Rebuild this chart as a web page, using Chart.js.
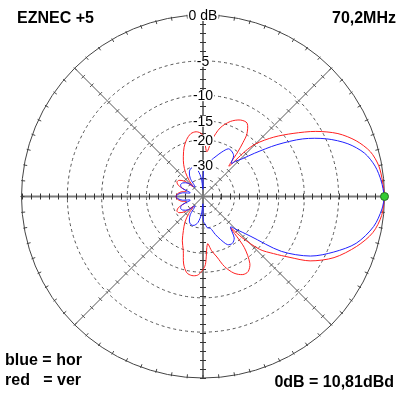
<!DOCTYPE html>
<html lang="en">
<head>
<meta charset="UTF-8">
<title>EZNEC azimuth pattern</title>
<script src="https://cdn.jsdelivr.net/npm/chart.js"></script>
<style>
    html, body { margin: 0; padding: 0; background: #fff; }
    #wrap { position: relative; width: 404px; height: 393px; }
</style>
</head>
<body>
<div id="wrap"><canvas id="pattern"></canvas></div>
<script>
// azimuth in degrees (ccw from the right), gain in dB relative to the max
const horAz = [0, 5, 10, 15, 20, 25, 30, 35, 40, 44, 47, 49.5, 53, 58, 62, 67, 72, 77, 82, 86, 89, 91, 95,
    101, 107, 113, 119, 125, 130, 138, 146, 152, 158, 164, 170, 175, 180, 185, 190, 196, 202, 208, 214, 222,
    230, 235, 241, 247, 253, 259, 265, 269, 271, 274, 278, 283, 288, 292, 297, 302, 307, 312, 315, 320, 325,
    331, 337, 343, 350, 356, 360];
const horDb = [0, -0.25, -0.65, -1.4, -2.8, -4.9, -7.8, -12, -17, -20.8, -22.6, -24.5, -21.8, -20.9, -20.8,
    -22.7, -25, -27.1, -30, -32.5, -34, -55, -40, -33, -30.8, -30.5, -32, -36, -46, -38, -34.5, -33.8, -35.5,
    -45, -37, -34, -32.7, -34, -37, -45, -35.5, -33.8, -34.5, -38, -46, -36, -32, -30.5, -30.8, -33, -40, -55,
    -34, -32.5, -30, -29.5, -26, -23.5, -20.8, -20.4, -21.5, -25.5, -23.5, -18.6, -11, -6.7, -4.2, -2.15,
    -0.8, -0.2, 0];

const verAz = [0, 5, 10, 15, 20, 25, 30, 35, 40, 45, 47, 49.5, 52, 53.5, 55, 59, 64, 70, 76, 81, 85, 88, 91,
    96, 101, 106, 111, 116, 121, 126, 131, 135, 140, 146, 151, 156, 162, 168, 174, 180, 186, 192, 198, 204,
    209, 214, 220, 226, 230, 235, 240, 245, 250, 254, 258, 262, 266, 269, 272, 275.5, 279, 283, 287, 292, 297,
    301, 305, 309, 311.5, 313.5, 317, 321, 325, 329, 335, 342, 348, 354, 360];
const verDb = [0, -0.13, -0.3, -0.8, -1.85, -3.4, -5.7, -8.6, -11.6, -15.3, -18.5, -26, -20, -17, -14.8,
    -12.9, -13, -14.1, -16.2, -19.8, -24, -21, -18.3, -17.6, -17.9, -19.2, -21.2, -24, -27, -31, -37, -44,
    -35, -31.5, -31, -33, -40, -36, -33.5, -32.7, -33.5, -36, -40, -33, -31, -31.5, -35, -44, -36, -30, -26.3,
    -22.5, -19.7, -16.3, -14.5, -14.1, -14.3, -15.2, -16.8, -23, -20.5, -18.4, -15.6, -13.5, -12.5, -12.5,
    -13.7, -17.5, -25, -20, -14.6, -11.9, -9.2, -6.4, -3.9, -2.0, -0.76, -0.17, 0];

const peakAz = [0];
const peakDb = [0];

const ringDb = [-5, -10, -15, -20, -30, -40];
const ringLabels = ['-5', '-10', '-15', '-20', '-30'];
const topLabel = '0 dB';

const titleLeft = 'EZNEC +5';
const titleRight = '70,2MHz';
const legendLines = ['blue = hor', 'red   = ver'];
const refText = '0dB = 10,81dBd';

// ARRL log scale: radius shrinks by 0.89 every 2 dB
function arrl(db) {
    return Math.pow(0.89, -db / 2);
}

function toXY(az, db) {
    return az.map((a, i) => {
        const f = arrl(db[i]);
        const t = a * Math.PI / 180;
        return { x: f * Math.cos(t), y: f * Math.sin(t) };
    });
}

const FONT = '"Liberation Sans", Arial, sans-serif';

const polarGrid = {
    id: 'polarGrid',
    beforeDatasetsDraw(chart) {
        const ctx = chart.ctx;
        const xs = chart.scales.x, ys = chart.scales.y;
        const cx = xs.getPixelForValue(0), cy = ys.getPixelForValue(0);
        const R = xs.getPixelForValue(1) - cx;
        ctx.save();

        // dashed dB rings
        ctx.strokeStyle = '#555';
        ctx.lineWidth = 1;
        ctx.setLineDash([3, 3]);
        ringDb.forEach(d => {
            ctx.beginPath();
            ctx.arc(cx, cy, R * arrl(d), 0, Math.PI * 2);
            ctx.stroke();
        });
        ctx.setLineDash([]);

        // diagonal spokes
        ctx.strokeStyle = '#555';
        ctx.lineWidth = 1;
        [45, 135, 225, 315].forEach(a => {
            const t = a * Math.PI / 180;
            const c = Math.cos(t), s = -Math.sin(t);
            ctx.beginPath();
            ctx.moveTo(cx, cy);
            ctx.lineTo(cx + R * c, cy + R * s);
            ctx.stroke();
            for (let k = 1; k < 15; k++) {
                const r = R * k / 15;
                const px = cx + r * c, py = cy + r * s;
                ctx.beginPath();
                ctx.moveTo(px - 2.5 * s, py + 2.5 * c);
                ctx.lineTo(px + 2.5 * s, py - 2.5 * c);
                ctx.stroke();
            }
        });

        // main axes, thicker grey
        ctx.strokeStyle = '#7a7a7a';
        ctx.lineWidth = 2;
        ctx.beginPath();
        ctx.moveTo(cx - R, cy); ctx.lineTo(cx + R, cy);
        ctx.moveTo(cx, cy - R); ctx.lineTo(cx, cy + R);
        ctx.stroke();
        ctx.strokeStyle = '#333';
        ctx.lineWidth = 1;
        ctx.beginPath();
        for (let k = -20; k <= 20; k++) {
            if (k === 0) continue;
            const r = R * k / 20;
            ctx.moveTo(Math.round(cx + r) + 0.5, cy - 3);
            ctx.lineTo(Math.round(cx + r) + 0.5, cy + 3);
            ctx.moveTo(cx - 3, Math.round(cy + r) + 0.5);
            ctx.lineTo(cx + 3, Math.round(cy + r) + 0.5);
        }
        ctx.stroke();

        // outer 0 dB circle with 5 degree ticks
        ctx.strokeStyle = '#444';
        ctx.lineWidth = 1;
        ctx.beginPath();
        ctx.arc(cx, cy, R, 0, Math.PI * 2);
        ctx.stroke();
        ctx.beginPath();
        for (let a = 0; a < 360; a += 5) {
            const t = a * Math.PI / 180;
            ctx.moveTo(cx + (R - 3) * Math.cos(t), cy - (R - 3) * Math.sin(t));
            ctx.lineTo(cx + (R + 1) * Math.cos(t), cy - (R + 1) * Math.sin(t));
        }
        ctx.stroke();
        ctx.restore();
    },
    afterDatasetsDraw(chart) {
        const ctx = chart.ctx;
        const xs = chart.scales.x, ys = chart.scales.y;
        const cx = xs.getPixelForValue(0), cy = ys.getPixelForValue(0);
        const R = xs.getPixelForValue(1) - cx;
        ctx.save();
        ctx.font = '14px ' + FONT;
        ctx.textAlign = 'center';
        ctx.textBaseline = 'middle';

        // labels sit on a white patch that hides the axis behind them
        const label = (t, y) => {
            const w = ctx.measureText(t).width;
            ctx.fillStyle = '#fff';
            ctx.fillRect(cx - w / 2 - 1, y - 5, w + 2, 11);
            ctx.fillStyle = '#000';
            ctx.fillText(t, cx, y + 1);
        };
        label(topLabel, cy - R);
        ringLabels.forEach((t, i) => label(t, cy - R * arrl(ringDb[i])));

        // corner texts
        ctx.font = 'bold 16px ' + FONT;
        ctx.textBaseline = 'alphabetic';
        ctx.textAlign = 'left';
        ctx.fillText(titleLeft, 17, 23);
        ctx.fillText(legendLines[0], 5, 365);
        ctx.fillText(legendLines[1], 5, 385);
        ctx.textAlign = 'right';
        ctx.fillText(titleRight, 396, 23);
        ctx.fillText(refText, 394, 387);
        ctx.restore();
    }
};

new Chart(document.getElementById('pattern'), {
    type: 'scatter',
    data: {
        datasets: [
            {
                label: 'max',
                data: toXY(peakAz, peakDb),
                pointRadius: 4,
                pointBackgroundColor: '#33cc33',
                pointBorderColor: '#2a6e2a',
                pointBorderWidth: 1,
                clip: false
            },
            {
                label: 'hor',
                data: toXY(horAz, horDb),
                showLine: true,
                borderColor: '#2020ff',
                borderWidth: 1,
                pointRadius: 0,
                tension: 0.3,
                clip: false
            },
            {
                label: 'ver',
                data: toXY(verAz, verDb),
                showLine: true,
                borderColor: '#ff2020',
                borderWidth: 1,
                pointRadius: 0,
                tension: 0.3,
                clip: false
            }
        ]
    },
    options: {
        responsive: true,
        maintainAspectRatio: false,
        animation: false,
        layout: { padding: { left: 21.5, right: 19.5, top: 15, bottom: 15 } },
        scales: {
            x: { type: 'linear', min: -1, max: 1, display: false },
            y: { type: 'linear', min: -1, max: 1, display: false }
        },
        plugins: {
            legend: { display: false },
            tooltip: { enabled: false }
        }
    },
    plugins: [polarGrid]
});
</script>
</body>
</html>
